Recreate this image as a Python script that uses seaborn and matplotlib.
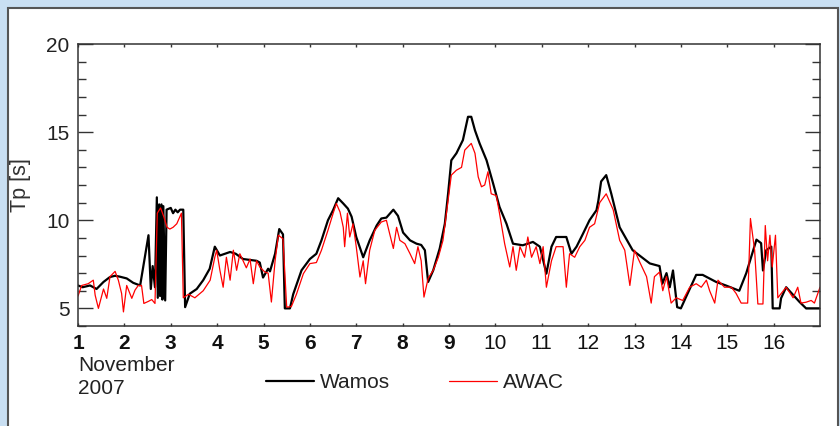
import matplotlib
matplotlib.use("Agg")
import matplotlib.pyplot as plt
import seaborn as sns
from matplotlib.patches import Rectangle
from matplotlib.ticker import MultipleLocator

# ---- data ----
wamos_t = [1.00, 1.10, 1.26, 1.40, 1.55, 1.69, 1.80, 1.90, 2.05, 2.19, 2.34, 2.52, 2.57, 2.61,
           2.66, 2.70, 2.72, 2.75, 2.77, 2.80, 2.82, 2.84, 2.88, 2.91, 3.00, 3.05, 3.10, 3.15,
           3.20, 3.27, 3.31, 3.41, 3.56, 3.70, 3.84, 3.95, 4.06, 4.28, 4.40, 4.56, 4.71, 4.85,
           4.92, 4.99, 5.10, 5.14, 5.25, 5.34, 5.42, 5.46, 5.57, 5.64, 5.82, 6.00, 6.14, 6.25,
           6.39, 6.50, 6.61, 6.72, 6.82, 6.90, 7.00, 7.15, 7.29, 7.44, 7.54, 7.65, 7.80, 7.90,
           8.01, 8.16, 8.30, 8.40, 8.48, 8.55, 8.66, 8.80, 8.91, 8.98, 9.05, 9.16, 9.30, 9.41,
           9.48, 9.56, 9.66, 9.81, 9.95, 10.09, 10.24, 10.38, 10.59, 10.81, 10.96, 11.10, 11.21,
           11.31, 11.53, 11.64, 11.75, 11.89, 12.03, 12.18, 12.22, 12.28, 12.39, 12.50, 12.68,
           12.96, 13.33, 13.54, 13.60, 13.69, 13.76, 13.83, 13.92, 14.00, 14.11, 14.33, 14.47,
           14.76, 14.97, 15.26, 15.41, 15.63, 15.73, 15.77, 15.84, 15.95, 15.98, 16.13, 16.16,
           16.27, 16.56, 16.70, 17.00]
wamos_tp = [6.3, 6.2, 6.3, 6.1, 6.5, 6.78, 6.85, 6.8, 6.7, 6.45, 6.3, 9.15, 6.1, 7.4,
            6.2, 11.3, 5.6, 10.9, 5.7, 10.9, 5.5, 10.8, 5.45, 10.6, 10.7, 10.4, 10.6, 10.45,
            10.6, 10.6, 5.07, 5.83, 6.1, 6.6, 7.25, 8.5, 8.0, 8.2, 8.1, 7.8, 7.75, 7.7,
            7.6, 6.75, 7.25, 7.1, 8.1, 9.5, 9.2, 5.0, 5.0, 5.8, 7.16, 7.8, 8.1, 8.86,
            10.0, 10.57, 11.25, 10.95, 10.66, 10.2, 9.05, 7.9, 8.86, 9.7, 10.1, 10.15, 10.6, 10.25,
            9.3, 8.86, 8.67, 8.6, 8.3, 6.5, 7.16, 8.4, 9.8, 11.5, 13.4, 13.8, 14.55, 15.87,
            15.87, 15.1, 14.36, 13.4, 12.1, 10.75, 9.8, 8.67, 8.58, 8.77, 8.5, 6.97, 8.5,
            9.05, 9.05, 8.1, 8.5, 9.24, 10.0, 10.57, 11.1, 12.2, 12.56, 11.5, 9.6,
            8.3, 7.55, 7.4, 6.4, 7.0, 6.2, 7.15, 5.07, 5.0, 5.64, 6.9, 6.9,
            6.5, 6.3, 6.0, 7.0, 8.9, 8.7, 7.15, 8.3, 8.5, 5.0, 5.0, 5.57,
            6.2, 5.36, 5.0, 5.0]

awac_t = [1.00, 1.08, 1.22, 1.33, 1.37, 1.44, 1.55, 1.62, 1.69, 1.80, 1.87, 1.94, 1.98, 2.05,
          2.16, 2.23, 2.30, 2.37, 2.42, 2.52, 2.59, 2.66, 2.71, 2.78, 2.85, 2.92, 2.98, 3.05,
          3.13, 3.23, 3.27, 3.38, 3.52, 3.70, 3.85, 3.95, 3.99, 4.06, 4.13, 4.20, 4.28, 4.35,
          4.42, 4.49, 4.56, 4.63, 4.71, 4.78, 4.85, 4.92, 5.03, 5.10, 5.17, 5.25, 5.32, 5.42,
          5.50, 5.60, 5.71, 5.86, 6.00, 6.14, 6.25, 6.39, 6.50, 6.57, 6.65, 6.72, 6.75, 6.81,
          6.86, 6.93, 7.00, 7.08, 7.15, 7.20, 7.29, 7.40, 7.54, 7.65, 7.72, 7.80, 7.87, 7.94,
          8.05, 8.16, 8.26, 8.33, 8.40, 8.46, 8.55, 8.66, 8.77, 8.87, 8.98, 9.05, 9.16, 9.27,
          9.34, 9.41, 9.48, 9.56, 9.63, 9.70, 9.77, 9.84, 9.91, 10.02, 10.09, 10.20, 10.31,
          10.38, 10.45, 10.53, 10.63, 10.70, 10.78, 10.88, 10.96, 11.03, 11.10, 11.21, 11.31,
          11.46, 11.53, 11.60, 11.71, 11.82, 11.93, 12.03, 12.14, 12.25, 12.39, 12.54, 12.68,
          12.79, 12.90, 13.00, 13.10, 13.26, 13.36, 13.43, 13.54, 13.61, 13.69, 13.79, 13.90,
          14.04, 14.19, 14.33, 14.44, 14.55, 14.62, 14.73, 14.80, 14.94, 15.09, 15.19, 15.30,
          15.44, 15.50, 15.59, 15.66, 15.77, 15.82, 15.87, 15.92, 15.97, 16.04, 16.09, 16.27,
          16.42, 16.52, 16.59, 16.70, 16.81, 16.88, 17.00]
awac_tp = [5.7, 6.3, 6.4, 6.6, 5.75, 5.0, 6.1, 5.57, 6.8, 7.1, 6.6, 5.85, 4.8, 6.3,
           5.57, 6.04, 6.3, 6.3, 5.28, 5.4, 5.5, 5.28, 10.4, 10.7, 10.2, 9.6, 9.5, 9.6,
           9.8, 10.4, 5.6, 5.8, 5.6, 6.0, 6.6, 7.9, 8.3, 7.16, 6.2, 7.9, 6.6, 8.3,
           7.16, 8.1, 7.7, 7.3, 7.8, 6.4, 7.7, 7.35, 7.06, 7.0, 5.36, 7.7, 9.15, 8.95,
           5.07, 5.1, 5.8, 6.97, 7.54, 7.6, 8.3, 9.43, 10.38, 10.95, 10.47, 9.6, 8.5, 10.4,
           9.05, 9.8, 8.5, 6.78, 7.7, 6.4, 8.3, 9.43, 9.9, 10.0, 9.24, 8.4, 9.6, 8.86,
           8.67, 8.1, 7.54, 8.5, 7.7, 5.64, 6.7, 7.16, 7.9, 8.86, 11.1, 12.56, 12.84, 13.0,
           13.98, 14.17, 14.36, 13.8, 12.46, 11.9, 12.0, 12.75, 11.5, 11.4, 10.38, 8.67, 7.35,
           8.5, 7.16, 8.5, 7.9, 9.05, 7.9, 8.5, 7.54, 8.5, 6.2, 7.7, 8.5,
           8.5, 6.2, 8.1, 7.9, 8.5, 8.86, 9.6, 9.8, 11.0, 11.5, 10.6, 8.86,
           8.3, 6.3, 8.3, 7.7, 6.8, 5.3, 6.8, 7.06, 6.0, 6.8, 5.3, 5.6,
           5.45, 6.2, 6.4, 6.2, 6.6, 6.0, 5.3, 6.6, 6.2, 6.2, 5.85, 5.3,
           5.3, 10.1, 8.3, 5.25, 5.25, 9.7, 7.7, 9.15, 7.35, 9.15, 5.6, 6.2,
           5.6, 6.2, 5.3, 5.35, 5.45, 5.3, 6.2]

x_ticks = list(range(1, 17))
y_ticks = [5, 10, 15, 20]
series_names = ["Wamos", "AWAC"]
series_colors = ["black", "red"]

# ---- figure ----
sns.set_style("ticks")
plt.rcParams["font.family"] = ["Liberation Sans", "DejaVu Sans"]

W, H = 840, 426
fig = plt.figure(figsize=(W / 100, H / 100), dpi=100, facecolor="#c9dff2")
panel = Rectangle((8 / W, -0.05), 830 / W, 1.05 - 8 / H,
                  transform=fig.transFigure, facecolor="white",
                  edgecolor="#555555", linewidth=1.5, zorder=-10)
fig.patches.append(panel)

ax = fig.add_axes([78 / W, 1 - 326 / H, 742 / W, 282 / H])
ax.set_zorder(5)
ax.set_facecolor("white")

sns.lineplot(x=wamos_t, y=wamos_tp, color=series_colors[0], linewidth=1.6,
             estimator=None, sort=False, label=series_names[0], ax=ax)
sns.lineplot(x=awac_t, y=awac_tp, color=series_colors[1], linewidth=0.9,
             estimator=None, sort=False, label=series_names[1], ax=ax)

ax.set_xlim(1, 17)
ax.set_ylim(4, 20)
ax.set_xticks(x_ticks)
ax.set_xticklabels([str(v) for v in x_ticks])
for lab, v in zip(ax.get_xticklabels(), x_ticks):
    if v < 10:
        lab.set_fontweight("bold")
ax.set_yticks(y_ticks)
ax.yaxis.set_minor_locator(MultipleLocator(1))

for s in ax.spines.values():
    s.set_visible(True)
    s.set_color("#333333")
    s.set_linewidth(1.1)

ax.tick_params(axis="y", which="major", direction="in", length=10.5, width=1.0,
               right=True, labelsize=15, pad=6, colors="#333333", labelcolor="#222222")
ax.tick_params(axis="y", which="minor", direction="in", length=5.5, width=1.0,
               right=True, colors="#333333")
ax.tick_params(axis="x", which="major", direction="in", length=2.5, width=1.0,
               top=True, labelsize=15, pad=6, colors="#333333", labelcolor="#111111")

ax.set_xlabel("")
ax.set_ylabel("Tp [s]", fontsize=15.5, color="#333333")
ax.yaxis.set_label_coords(-0.063, 0.5)

fig.text(78 / W, 1 - 356 / H, "November\n2007", ha="left", va="top",
         fontsize=15, color="#222222", linespacing=1.3)

handles, labels = ax.get_legend_handles_labels()
ax.get_legend().remove()
fig.legend(handles, labels, loc="center", bbox_to_anchor=(0.494, 1 - 383 / H),
           ncol=2, frameon=False, fontsize=15, handlelength=2.3,
           columnspacing=2.8, handletextpad=0.3, labelcolor="#222222")

fig.savefig("out.png", dpi=100, facecolor=fig.get_facecolor())
